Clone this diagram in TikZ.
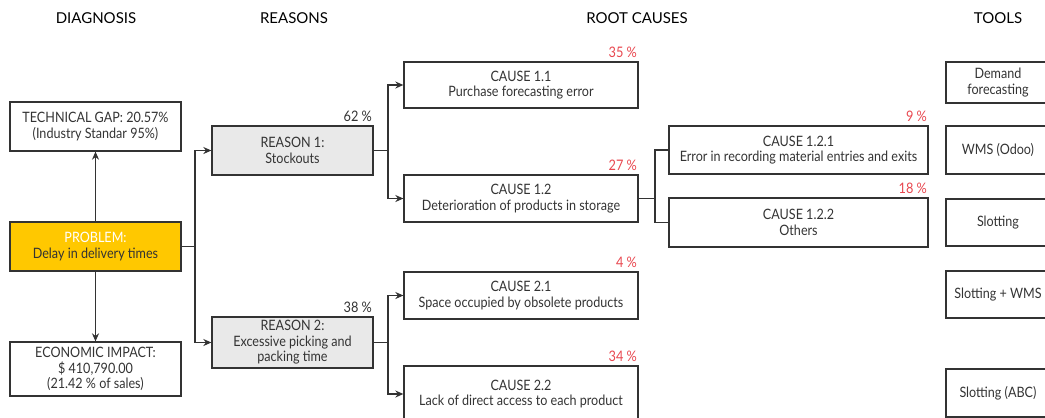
\documentclass[tikz,border=0pt]{standalone}
\usepackage{fontspec}
\setmainfont{Lato}
\newfontfamily\narrowlato{Lato}[FakeStretch=0.88]
\usetikzlibrary{arrows.meta}
\definecolor{ln}{HTML}{333333}
\definecolor{txt}{HTML}{333333}
\definecolor{pct}{HTML}{E8474F}
\definecolor{yel}{HTML}{FFC800}
\definecolor{gry}{HTML}{E9E9E9}
\tikzset{
  box/.style={draw=ln, line width=1.3pt, rectangle, align=center, inner sep=0pt, text=txt, font=\narrowlato\fontsize{14.3}{15.5}\selectfont},
  hdr/.style={text=black, font=\fontsize{15}{17}\selectfont},
  pc/.style={anchor=south east, inner xsep=1.5pt, inner ysep=3.5pt, font=\narrowlato\fontsize{14.5}{16}\selectfont},
  pcr/.style={pc, text=pct},
  pck/.style={pc, text=txt},
  arr/.style={draw=ln, line width=1.3pt, -{Stealth[length=8pt,width=7pt]}},
  con/.style={draw=ln, line width=1.3pt},
}
\begin{document}
\begin{tikzpicture}[x=1pt,y=-1pt]
\useasboundingbox (0,0) rectangle (1045,418);
\clip (0,0) rectangle (1045,418);
% headers
\node[hdr] (h1) at (96,18) {DIAGNOSIS};
\node[hdr] (h2) at (294,18) {REASONS};
\node[hdr] (h3) at (637,18) {ROOT CAUSES};
\node[hdr] (h4) at (998,18) {TOOLS};
% diagnosis
\node[box, minimum width=171, minimum height=49] (tech) at (95.5,126.5) {TECHNICAL GAP: 20.57\%\\(Industry Standar 95\%)};
\node[box, fill=yel, minimum width=171, minimum height=49] (prob) at (95.5,246.5) {\textcolor{white}{PROBLEM:}\\Delay in delivery times};
\node[box, minimum width=171, minimum height=54] (econ) at (95.5,369) {ECONOMIC IMPACT:\\\$ 410,790.00\\(21.42 \% of sales)};
% reasons
\node[box, fill=gry, minimum width=161, minimum height=49] (r1) at (292.5,150.5) {REASON 1:\\Stockouts};
\node[box, fill=gry, minimum width=161, minimum height=51] (r2) at (292.5,342.5) {REASON 2:\\Excessive picking and\\packing time};
% causes
\node[box, minimum width=234, minimum height=46] (c11) at (521,85) {CAUSE 1.1\\Purchase forecasting error};
\node[box, minimum width=234, minimum height=47] (c12) at (521,198.5) {CAUSE 1.2\\Deterioration of products in storage};
\node[box, minimum width=234, minimum height=47] (c21) at (521,295.5) {CAUSE 2.1\\Space occupied by obsolete products};
\node[box, minimum width=234, minimum height=56] (c22) at (521,394) {CAUSE 2.2\\Lack of direct access to each product};
\node[box, minimum width=259, minimum height=48] (c121) at (798.5,150) {CAUSE 1.2.1\\Error in recording material entries and exits};
\node[box, minimum width=259, minimum height=49] (c122) at (798.5,222.5) {CAUSE 1.2.2\\Others};
% tools
\node[box, minimum width=104, minimum height=41] (t1) at (998,82.5) {Demand\\forecasting};
\node[box, minimum width=104, minimum height=48] (t2) at (998,150) {WMS (Odoo)};
\node[box, minimum width=104, minimum height=47] (t3) at (998,222.5) {Slotting};
\node[box, minimum width=104, minimum height=47] (t4) at (998,294.5) {Slotting + WMS};
\node[box, minimum width=104, minimum height=48] (t5) at (998,393) {Slotting (ABC)};
% percentages
\node[pck] (p1) at (r1.north east) {62 \%};
\node[pck] (p2) at (r2.north east) {38 \%};
\node[pcr] (p3) at (c11.north east) {35 \%};
\node[pcr] (p4) at (c12.north east) {27 \%};
\node[pcr] (p5) at (c21.north east) {4 \%};
\node[pcr] (p6) at (c22.north east) {34 \%};
\node[pcr] (p7) at (c121.north east) {9 \%};
\node[pcr] (p8) at (c122.north east) {18 \%};
% junctions
\coordinate (j1) at (195,246.5);
\coordinate (j2) at (388,150.5);
\coordinate (j3) at (388,342.5);
\coordinate (j4) at (655,198.5);
% connectors
\draw[arr] (prob.north) -- (tech.south);
\draw[arr] (prob.south) -- (econ.north);
\draw[con] (prob.east) -- (j1);
\draw[arr] (j1) |- (r1.west);
\draw[arr] (j1) |- (r2.west);
\draw[con] (r1.east) -- (j2);
\draw[arr] (j2) |- (c11.west);
\draw[arr] (j2) |- (c12.west);
\draw[con] (r2.east) -- (j3);
\draw[arr] (j3) |- (c21.west);
\draw[arr] (j3) |- (c22.west);
\draw[con] (c12.east) -- (j4);
\draw[con] (j4) |- (c121.west);
\draw[con] (j4) |- (c122.west);
\end{tikzpicture}
\end{document}
